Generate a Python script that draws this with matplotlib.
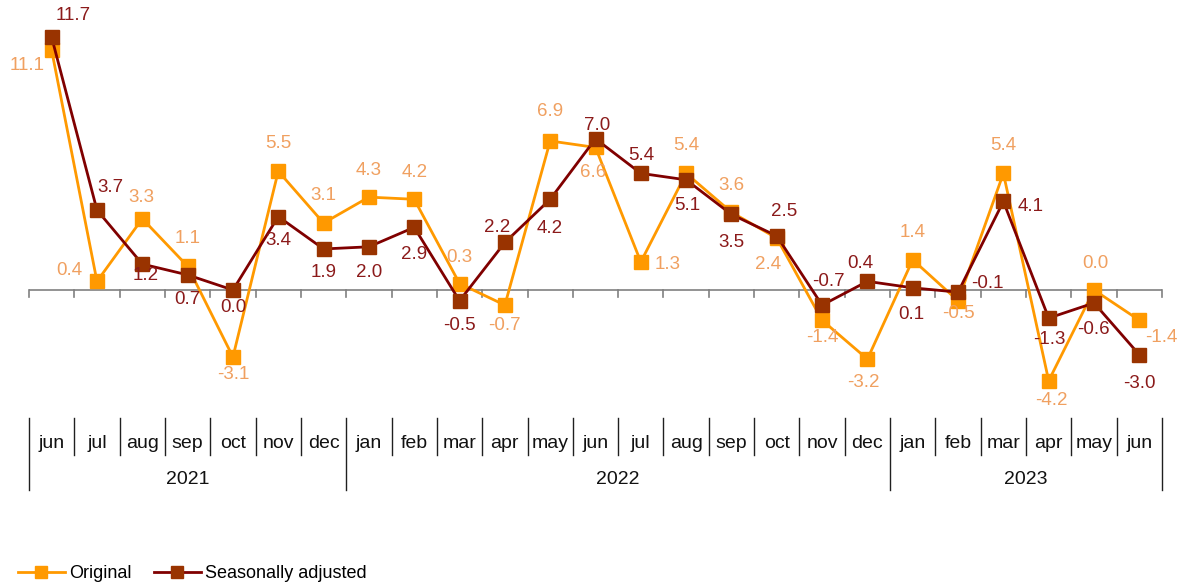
import matplotlib
matplotlib.use("Agg")
import matplotlib.pyplot as plt
from matplotlib.lines import Line2D
import matplotlib.transforms as mtransforms

plt.rcParams['font.family'] = ['Liberation Sans', 'DejaVu Sans']

months = ["jun", "jul", "aug", "sep", "oct", "nov", "dec",
          "jan", "feb", "mar", "apr", "may", "jun", "jul", "aug", "sep", "oct", "nov", "dec",
          "jan", "feb", "mar", "apr", "may", "jun"]
years = ["2021", "2022", "2023"]
year_counts = [7, 12, 6]

original = [11.1, 0.4, 3.3, 1.1, -3.1, 5.5, 3.1, 4.3, 4.2, 0.3, -0.7, 6.9, 6.6, 1.3,
            5.4, 3.6, 2.4, -1.4, -3.2, 1.4, -0.5, 5.4, -4.2, 0.0, -1.4]
seasonal = [11.7, 3.7, 1.2, 0.7, 0.0, 3.4, 1.9, 2.0, 2.9, -0.5, 2.2, 4.2, 7.0, 5.4,
            5.1, 3.5, 2.5, -0.7, 0.4, 0.1, -0.1, 4.1, -1.3, -0.6, -3.0]

# label offsets (pixels) - styling only
orig_off = [(-25, -15), (-28, 11), (-1, 21), (0, 28), (0, -18), (0, 28), (0, 28), (0, 27),
            (0, 27), (0, 26), (0, -20), (0, 29), (-2, -25), (27, -3), (0, 28), (0, 27),
            (-9, -26), (0, -17), (-4, -23), (0, 27), (0, -13), (0, 28), (3, -20), (1, 27),
            (22, -17)]
sa_off = [(22, 22), (13, 23), (3, -11), (0, -25), (0, -17), (0, -24), (0, -24), (0, -26),
          (0, -27), (0, -25), (-8, 15), (0, -29), (2, 13), (0, 18), (1, -26), (0, -28),
          (7, 24), (6, 24), (-7, 18), (-1, -27), (29, 9), (27, -5), (1, -21), (-1, -27),
          (0, -29)]

W, H = 1180, 586
fig = plt.figure(figsize=(W / 100, H / 100), dpi=100)

scale = 21.6
y0 = 290
ax_top, ax_bot = 5, 410
ax = fig.add_axes([29 / W, 1 - ax_bot / H, (1162 - 29) / W, (ax_bot - ax_top) / H])
ax.set_xlim(-0.5, len(months) - 0.5)
ax.set_ylim(-(ax_bot - y0) / scale, (y0 - ax_top) / scale)
ax.axis('off')

x = list(range(len(months)))
c_orig, c_orig_lbl = "#FF9900", "#F0A060"
c_sa_line, c_sa_mk, c_sa_lbl = "#800000", "#993300", "#8B1A1A"

# zero axis with ticks
ax.axhline(0, color="#808080", lw=1.2, zorder=1)
tick_len = 7 / scale
for i in range(len(months) + 1):
    ax.plot([i - 0.5, i - 0.5], [0, -tick_len], color="#808080", lw=1.2, zorder=1, clip_on=False)

ax.plot(x, original, color=c_orig, lw=2, marker='s', ms=9.5, mfc=c_orig, mec=c_orig, zorder=3)
ax.plot(x, seasonal, color=c_sa_line, lw=2, marker='s', ms=9.5, mfc=c_sa_mk, mec=c_sa_mk, zorder=4)

for i, v in enumerate(original):
    ax.annotate(f"{v:.1f}", (i, v), xytext=orig_off[i], textcoords='offset pixels',
                ha='center', va='center', fontsize=13.5, color=c_orig_lbl, zorder=5)
for i, v in enumerate(seasonal):
    ax.annotate(f"{v:.1f}", (i, v), xytext=sa_off[i], textcoords='offset pixels',
                ha='center', va='center', fontsize=13.5, color=c_sa_lbl, zorder=5)

# category table
tr = mtransforms.blended_transform_factory(ax.transData, fig.transFigure)
def fy(py):
    return 1 - py / H

boundaries = [0]
for c in year_counts:
    boundaries.append(boundaries[-1] + c)
for i in range(len(months) + 1):
    bottom = 490 if i in boundaries else 455
    fig.add_artist(Line2D([i - 0.5, i - 0.5], [fy(418), fy(bottom)], transform=tr,
                          color="#202020", lw=1))
for i, m in enumerate(months):
    fig.text(i, fy(443), m, transform=tr, ha='center', va='center', fontsize=14, color="#111111")
for k, yname in enumerate(years):
    mid = (boundaries[k] + boundaries[k + 1] - 1) / 2
    fig.text(mid, fy(479), yname, transform=tr, ha='center', va='center', fontsize=14, color="#111111")

handles = [Line2D([], [], color=c_orig, lw=2, marker='s', ms=9, mfc=c_orig, mec=c_orig),
           Line2D([], [], color=c_sa_line, lw=2, marker='s', ms=9, mfc=c_sa_mk, mec=c_sa_mk)]
fig.legend(handles, ["Original", "Seasonally adjusted"], loc='center left',
           bbox_to_anchor=(18 / W, fy(574)), ncol=2, frameon=False, fontsize=13,
           handlelength=2.6, handletextpad=0.25, columnspacing=1.2, borderaxespad=0,
           borderpad=0)

fig.savefig("out.png", dpi=100)
